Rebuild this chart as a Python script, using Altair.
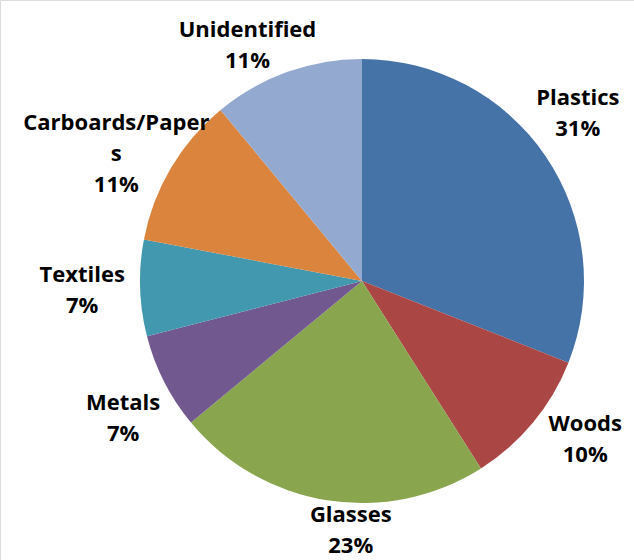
import altair as alt
import pandas as pd

categories = ["Plastics", "Woods", "Glasses", "Metals", "Textiles", "Carboards/Papers", "Unidentified"]
label_text = ["Plastics\n31%", "Woods\n10%", "Glasses\n23%", "Metals\n7%", "Textiles\n7%", "Carboards/Paper\ns\n11%", "Unidentified\n11%"]
values = [31, 10, 23, 7, 7, 11, 11]
colors = ["#4572A7", "#AA4643", "#89A54E", "#71588F", "#4198AF", "#DB843D", "#93A9CF"]

CX, CY, R = 362, 281, 222
LINE_H = 31

df = pd.DataFrame({"category": categories, "value": values, "label": label_text,
                   "order": list(range(len(categories)))})

arcs = alt.Chart(df).mark_arc(outerRadius=R).encode(
    theta=alt.Theta("value:Q", stack=True),
    order=alt.Order("order:Q"),
    x=alt.value(CX),
    y=alt.value(CY),
    color=alt.Color("category:N", scale=alt.Scale(domain=categories, range=colors), legend=None),
)

# labels placed outside each slice, near its middle angle (Excel-like outside-end placement)
labels = alt.Chart(df).transform_joinaggregate(
    total="sum(value)"
).transform_window(
    cum="sum(value)", sort=[alt.SortField("order")], frame=[None, 0]
).transform_calculate(
    mid="(datum.cum - datum.value / 2) / datum.total * 2 * PI",
    nlines="length(split(datum.label, '\\n'))",
).transform_calculate(
    a="datum.mid - 6.5 * PI / 180 * abs(cos(datum.mid))",
).transform_calculate(
    r="248 + 32 * abs(sin(datum.a))",
).transform_calculate(
    lx=f"{CX} + datum.r * sin(datum.a)",
    ly=f"{CY} - datum.r * cos(datum.a) - {LINE_H / 2} * (datum.nlines - 1)",
).mark_text(font="Open Sans", fontWeight="bold", fontSize=22,
            lineBreak="\n", lineHeight=LINE_H, color="black",
            align="center", baseline="middle").encode(
    text="label:N",
    x=alt.X("lx:Q", scale=None),
    y=alt.Y("ly:Q", scale=None),
)

chart = (arcs + labels).properties(
    width=634, height=560, autosize=alt.AutoSizeParams(type="none"), padding=0
).configure_view(stroke=None).configure(background="white")

chart.save("out.html", embed_options={"renderer": "svg", "actions": False})
